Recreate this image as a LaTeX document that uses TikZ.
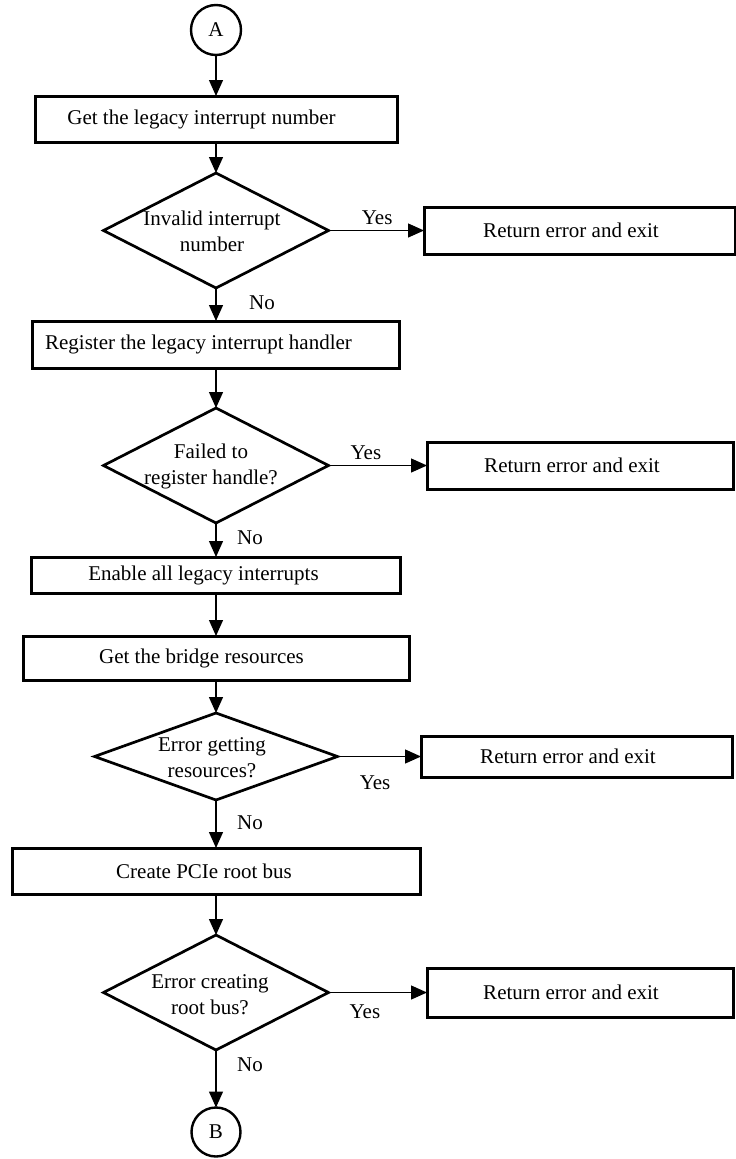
\documentclass[tikz,border=0pt]{standalone}
\usepackage{fontspec}
\setmainfont{Liberation Serif}
\usetikzlibrary{shapes.geometric,arrows.meta}
\tikzset{
  proc/.style={draw=black, line width=3pt, rectangle, inner sep=0pt, outer sep=0pt},
  dec/.style={draw=black, line width=2.7pt, diamond, inner sep=0pt, outer sep=0pt},
  conn/.style={draw=black, line width=2.4pt, circle, inner sep=0pt, outer sep=0pt, minimum size=50pt},
  arr/.style={draw=black, line width=1.3pt, -{Triangle[length=16pt,width=14pt]}},
  lbl/.style={inner sep=0pt, anchor=center},
  txt/.style={align=center, inner sep=0pt}
}
\begin{document}
\begin{tikzpicture}[x=1pt,y=-1pt,font=\fontsize{21}{26}\selectfont]
\fill[white] (0,0) rectangle (736,1159);
\useasboundingbox (0,0) rectangle (736,1159);

% connectors A / B
\node[conn] (A) at (216,30) {A};
\node[conn, minimum size=49pt] (B) at (216,1132) {B};

% process boxes
\node[proc, minimum width=362pt, minimum height=46pt] (b1) at (216,119) {Get the legacy interrupt number\hspace*{29pt}};
\node[proc, minimum width=367pt, minimum height=47pt] (b2) at (216,344.5) {Register the legacy interrupt handler\hspace*{35pt}};
\node[proc, minimum width=369pt, minimum height=36pt] (b3) at (216,575) {Enable all legacy interrupts\hspace*{25pt}};
\node[proc, minimum width=386pt, minimum height=44pt] (b4) at (216,658) {Get the bridge resources\hspace*{29pt}};
\node[proc, minimum width=408pt, minimum height=46pt] (b5) at (216,871) {Create PCIe root bus\hspace*{24pt}};

% decisions
\node[dec, minimum width=225pt, minimum height=115pt,
  label={[txt, xshift=-4pt, yshift=-1pt]center:Invalid interrupt\\number}] (d1) at (216,230.5) {};
\node[dec, minimum width=225pt, minimum height=115pt,
  label={[txt, xshift=-5pt, yshift=-1pt]center:Failed to\\register handle?}] (d2) at (216,465.5) {};
\node[dec, minimum width=243pt, minimum height=87pt,
  label={[txt, xshift=-4pt, yshift=-1pt]center:Error getting\\resources?}] (d3) at (216,756.5) {};
\node[dec, minimum width=225pt, minimum height=115pt,
  label={[txt, xshift=-6pt, yshift=-2pt]center:Error creating\\root bus?}] (d4) at (216,992.5) {};

% return boxes
\node[proc, minimum width=311pt, minimum height=47pt] (r1) at (579.5,230.5) {Return error and exit\hspace*{17pt}};
\node[proc, minimum width=306pt, minimum height=47pt] (r2) at (580,465.5) {Return error and exit\hspace*{16pt}};
\node[proc, minimum width=311pt, minimum height=41pt] (r3) at (576.5,756.5) {Return error and exit\hspace*{17pt}};
\node[proc, minimum width=306pt, minimum height=49pt] (r4) at (580,992.5) {Return error and exit\hspace*{18pt}};

% main flow
\draw[arr] (A) -- (b1);
\draw[arr] (b1) -- (d1);
\draw[arr] (d1) -- node[lbl, pos=0.45, xshift=46pt] {No} (b2);
\draw[arr] (b2) -- (d2);
\draw[arr] (d2) -- node[lbl, pos=0.44, xshift=34pt] {No} (b3);
\draw[arr] (b3) -- (b4);
\draw[arr] (b4) -- (d3);
\draw[arr] (d3) -- node[lbl, pos=0.48, xshift=34pt] {No} (b5);
\draw[arr] (b5) -- (d4);
\draw[arr] (d4) -- node[lbl, pos=0.26, xshift=34pt] {No} (B);

% yes branches
\draw[arr] (d1.east) -- node[lbl, pos=0.51, yshift=12.5pt] {Yes} (r1.west);
\draw[arr] (d2.east) -- node[lbl, pos=0.38, yshift=13pt] {Yes} (r2.west);
\draw[arr] (d3.east) -- node[lbl, pos=0.45, yshift=-26pt] {Yes} (r3.west);
\draw[arr] (d4.east) -- node[lbl, pos=0.37, yshift=-19pt] {Yes} (r4.west);
\end{tikzpicture}
\end{document}
